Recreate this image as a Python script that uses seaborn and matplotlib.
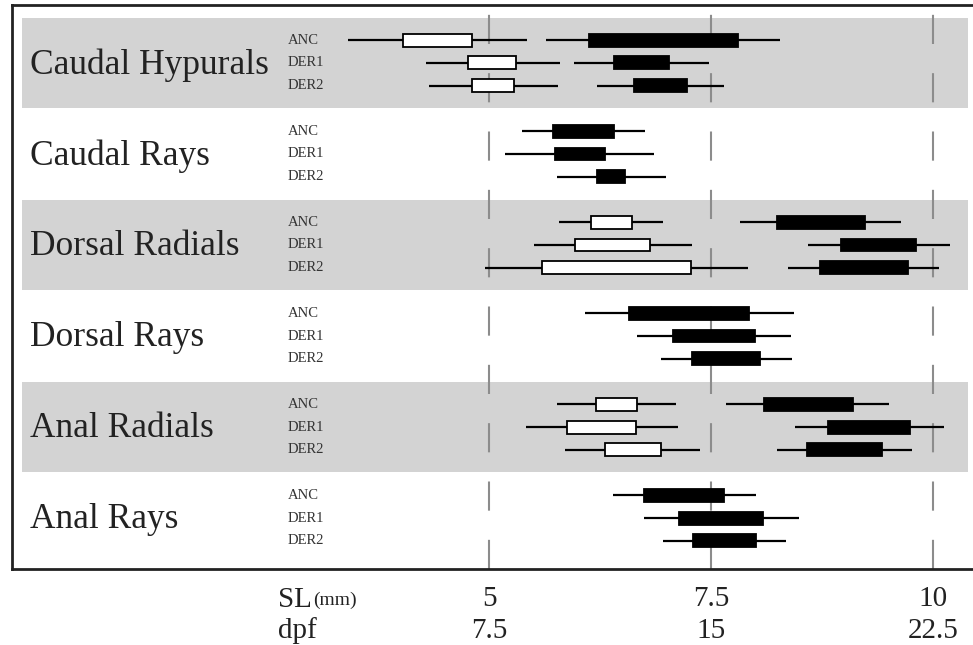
import numpy as np
import pandas as pd
import matplotlib
matplotlib.use('Agg')
import matplotlib.pyplot as plt
import seaborn as sns

# Structures (top to bottom) and populations inside each group
structures = ['Caudal Hypurals', 'Caudal Rays', 'Dorsal Radials',
              'Dorsal Rays', 'Anal Radials', 'Anal Rays']
populations = ['ANC', 'DER1', 'DER2']

# Ranges in SL (mm): [min, box start, box end, max] for ANC, DER1, DER2
# white = onset stage, black = later stage (None where there is no white bar)
caudal_hypurals_white = [[3.41, 4.03, 4.81, 5.43], [4.29, 4.76, 5.30, 5.80], [4.32, 4.81, 5.28, 5.78]]
caudal_hypurals_black = [[5.64, 6.13, 7.80, 8.28], [5.96, 6.41, 7.02, 7.48], [6.21, 6.63, 7.23, 7.65]]
caudal_rays_black = [[5.37, 5.72, 6.41, 6.75], [5.18, 5.74, 6.30, 6.86], [5.77, 6.22, 6.53, 6.99]]
dorsal_radials_white = [[5.79, 6.15, 6.61, 6.96], [5.51, 5.97, 6.81, 7.28], [4.95, 5.60, 7.27, 7.91]]
dorsal_radials_black = [[7.82, 8.24, 9.23, 9.64], [8.59, 8.96, 9.81, 10.19], [8.37, 8.72, 9.72, 10.06]]
dorsal_rays_black = [[6.08, 6.58, 7.93, 8.43], [6.66, 7.07, 7.99, 8.40], [6.93, 7.29, 8.05, 8.41]]
anal_radials_white = [[5.76, 6.20, 6.67, 7.10], [5.42, 5.88, 6.65, 7.13], [5.85, 6.31, 6.93, 7.38]]
anal_radials_black = [[7.67, 8.10, 9.10, 9.50], [8.44, 8.81, 9.74, 10.12], [8.24, 8.58, 9.42, 9.76]]
anal_rays_black = [[6.40, 6.74, 7.65, 8.00], [6.74, 7.14, 8.08, 8.49], [6.96, 7.30, 8.00, 8.34]]

white_ranges = [caudal_hypurals_white, None, dorsal_radials_white, None, anal_radials_white, None]
black_ranges = [caudal_hypurals_black, caudal_rays_black, dorsal_radials_black,
                dorsal_rays_black, anal_radials_black, anal_rays_black]

sl_ticks = [5, 7.5, 10]
sl_labels = ['5', '7.5', '10']
dpf_labels = ['7.5', '15', '22.5']


def to_long(ranges):
    rows = []
    for g, group in enumerate(ranges):
        if group is None:
            continue
        for p, (lo, q1, q3, hi) in enumerate(group):
            pos = g + (p - 1) * 0.25
            # repeated quartiles so the box spans exactly q1..q3
            for v in [lo, q1, q1, q3, q3, hi]:
                rows.append({'pos': pos, 'SL': v})
    return pd.DataFrame(rows)


white_df = to_long(white_ranges)
black_df = to_long(black_ranges)

sns.set_theme(style='white')
plt.rcParams['font.family'] = ['Liberation Serif', 'DejaVu Serif']

fig = plt.figure(figsize=(9.73, 6.45), dpi=100)
ax = fig.add_axes([12 / 973, 1 - 569 / 645, 963 / 973, 564 / 645])

# alternating gray bands
for g in range(len(structures)):
    if g % 2 == 0:
        ax.axhspan(g - 0.49, g + 0.49, xmin=10 / 963, xmax=956 / 963,
                   color='#d3d3d3', lw=0, zorder=0)

for x in sl_ticks:
    ax.axvline(x, color='#8c8c8c', lw=1.5, ls=(0, (14, 14)), zorder=1)

box_kw = dict(orient='y', native_scale=True, width=0.57, whis=(0, 100),
              showcaps=False, showfliers=False, linecolor='black',
              linewidth=1.3, medianprops={'visible': False},
              whiskerprops={'linewidth': 1.6}, ax=ax)
sns.boxplot(data=white_df, x='SL', y='pos', color='white', **box_kw)
sns.boxplot(data=black_df, x='SL', y='pos', color='black', **box_kw)

ax.set_xlim(-0.37, 10.47)
ax.set_ylim(5.56, -0.637)
ax.set_xticks([])
ax.set_yticks([])
ax.set_xlabel('')
ax.set_ylabel('')
for side in ['top', 'bottom', 'left', 'right']:
    ax.spines[side].set_color('#222222')
    ax.spines[side].set_linewidth(2)

# labels
for g, name in enumerate(structures):
    ax.text(-0.17, g + 0.02, name, fontsize=25.5, color='#222222', va='center', ha='left')
    for p, pop in enumerate(populations):
        ax.text(2.73, g + (p - 1) * 0.25, pop, fontsize=10.5, color='#333333',
                va='center', ha='left')

trans = ax.get_xaxis_transform()
for x, sl, dpf in zip(sl_ticks, sl_labels, dpf_labels):
    ax.text(x, -0.053, sl, transform=trans, fontsize=21, ha='center', va='center',
            color='#222222', clip_on=False)
    ax.text(x, -0.110, dpf, transform=trans, fontsize=21, ha='center', va='center',
            color='#222222', clip_on=False)

fig.text(278 / 973, 1 - 600 / 645, 'SL', fontsize=21, ha='left', va='center', color='#222222')
fig.text(313 / 973, 1 - 600 / 645, '(mm)', fontsize=14, ha='left', va='center', color='#222222')
fig.text(278 / 973, 1 - 631 / 645, 'dpf', fontsize=21, ha='left', va='center', color='#222222')

fig.savefig('out.png', dpi=100)
